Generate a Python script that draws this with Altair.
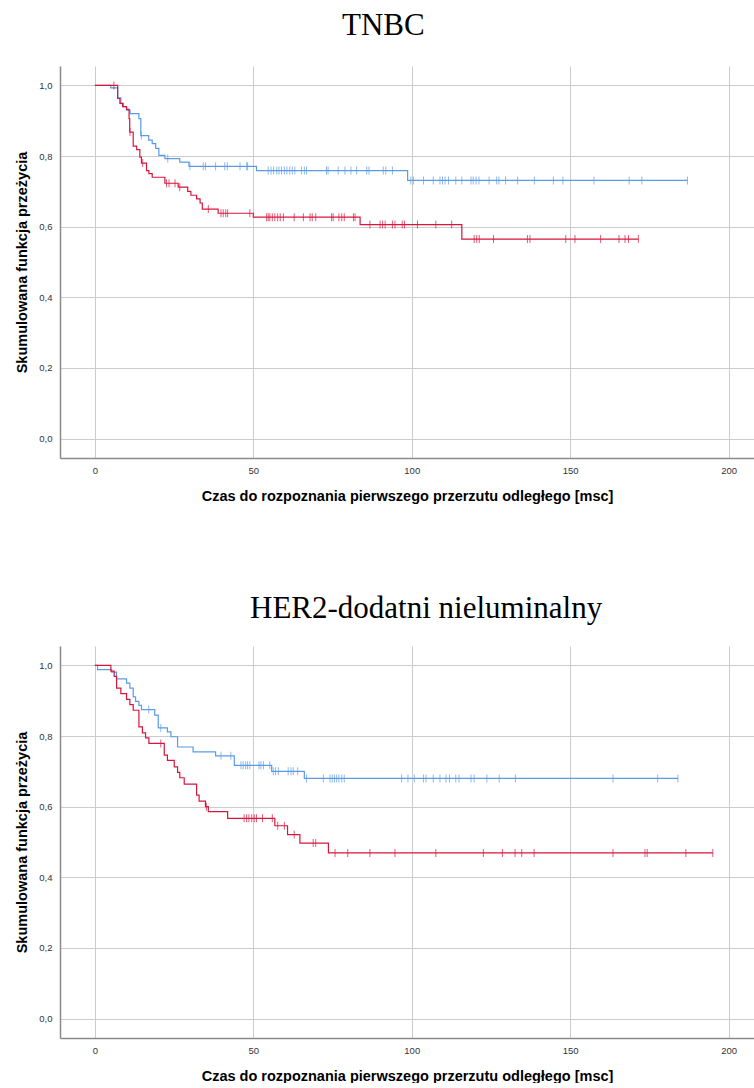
import altair as alt
import pandas as pd

# ---------------- data ----------------
GROUPS = ["g1", "g2"]
BLUE = "#5b9be6"
RED = "#d8163c"

X_TICKS = [0, 50, 100, 150, 200]
Y_TICKS = [0.0, 0.2, 0.4, 0.6, 0.8, 1.0]

X_TITLE = "Czas do rozpoznania pierwszego przerzutu odległego [msc]"
Y_TITLE = "Skumulowana funkcja przeżycia"

# TNBC - blue group
tnbc_blue_t = [0, 5.0, 7.2, 8.2, 9.0, 10.0, 11.1, 13.9, 14.5, 17.0, 18.1, 19.2, 20.2,
               22.1, 26.8, 29.7, 51.0, 98.7]
tnbc_blue_s = [1.0, 0.993, 0.965, 0.949, 0.940, 0.930, 0.920, 0.906, 0.858, 0.845, 0.835,
               0.822, 0.802, 0.793, 0.783, 0.771, 0.759, 0.731]
tnbc_blue_c = [14.7, 23.0, 30.0, 34.2, 34.9, 38.1, 41.0, 41.8, 45.8, 47.9, 48.2, 54.7, 55.6,
               56.4, 57.4, 58.1, 58.9, 59.8, 60.6, 61.5, 62.3, 63.1, 65.2, 66.1, 66.8, 73.1,
               73.6, 76.8, 78.9, 80.8, 82.6, 85.8, 86.5, 91.0, 91.8, 93.9, 99.7, 100.5, 103.7,
               106.8, 108.9, 109.7, 110.5, 111.6, 113.9, 115.8, 118.7, 119.4, 120.3, 121.2,
               124.4, 126.8, 127.5, 129.6, 133.4, 138.7, 144.7, 147.7, 157.5, 168.6, 172.6,
               187.0]

# TNBC - red group
tnbc_red_t = [0, 7.2, 7.9, 8.75, 10.0, 10.8, 11.0, 12.1, 13.2, 14.2, 14.7, 16.3, 17.05, 18.1,
              22.1, 26.3, 29.3, 30.3, 32.1, 33.2, 33.9, 38.9, 50.0, 83.7, 115.8]
tnbc_red_s = [1.0, 0.963, 0.949, 0.940, 0.932, 0.906, 0.868, 0.828, 0.818, 0.797, 0.780,
              0.759, 0.750, 0.740, 0.723, 0.712, 0.700, 0.689, 0.679, 0.667, 0.650, 0.638,
              0.627, 0.606, 0.565]
tnbc_red_c = [6.0, 11.1, 15.1, 22.6, 23.4, 25.3, 26.8, 35.8, 39.8, 40.5, 41.3, 41.9, 48.9,
              54.2, 54.7, 55.2, 56.0, 56.8, 57.7, 58.5, 59.5, 62.9, 65.8, 67.9, 68.6, 69.7,
              74.7, 75.2, 77.0, 77.9, 78.7, 81.6, 82.1, 86.8, 90.0, 90.8, 91.6, 93.9, 94.7,
              97.0, 97.7, 101.8, 107.6, 112.6, 119.7, 120.5, 121.3, 125.8, 136.5, 137.3,
              148.6, 151.5, 159.6, 165.4, 167.3, 168.4, 171.5]

# HER2 - blue group
her2_blue_t = [0, 0.85, 5.3, 6.85, 10.0, 11.05, 12.1, 12.85, 13.9, 14.7, 18.9, 20.0, 22.9,
               24.0, 26.1, 31.0, 38.1, 44.0, 55.8, 66.1]
her2_blue_s = [1.0, 0.988, 0.981, 0.962, 0.950, 0.936, 0.911, 0.898, 0.887, 0.875, 0.859,
               0.823, 0.812, 0.798, 0.769, 0.755, 0.744, 0.717, 0.700, 0.680]
her2_blue_c = [17.0, 20.8, 39.8, 42.9, 46.1, 46.8, 47.6, 48.2, 48.9, 51.8, 52.4, 53.2, 55.2,
               56.3, 57.0, 57.9, 61.0, 61.9, 62.6, 64.0, 66.8, 72.1, 74.2, 74.9, 75.6, 76.3,
               77.0, 77.9, 78.7, 96.8, 98.8, 100.8, 103.7, 104.5, 106.8, 108.9, 110.8, 111.9,
               113.9, 114.9, 118.7, 119.7, 123.7, 127.6, 132.7, 163.5, 177.6, 184.0]

# HER2 - red group
her2_red_t = [0, 5.05, 6.1, 6.85, 8.2, 10.0, 11.05, 12.1, 13.9, 15.0, 16.0, 17.05, 21.9,
              22.9, 25.05, 26.1, 26.8, 28.2, 32.1, 32.9, 34.9, 35.8, 41.9, 56.8, 60.8, 64.7,
              73.7]
her2_red_s = [1.0, 0.984, 0.969, 0.936, 0.920, 0.904, 0.889, 0.873, 0.826, 0.809, 0.795,
              0.779, 0.746, 0.731, 0.713, 0.697, 0.682, 0.664, 0.633, 0.616, 0.600, 0.586,
              0.567, 0.546, 0.521, 0.497, 0.469]
her2_red_c = [20.8, 35.2, 47.1, 47.9, 48.6, 49.5, 50.3, 51.0, 52.9, 56.0, 57.7, 59.8, 62.9,
              68.9, 69.7, 75.8, 79.8, 86.8, 94.7, 107.6, 122.6, 128.6, 132.6, 134.7, 138.6,
              163.5, 173.6, 174.3, 186.5, 195.0]


def curve_tables(groups):
    lines, cens = [], []
    for i, (g, t, s, c) in enumerate(groups):
        steps = pd.DataFrame({"t": t, "s": s})
        end = pd.DataFrame({"t": [max(c)], "s": [s[-1]]})
        ln = pd.concat([steps, end], ignore_index=True)
        ln["g"] = g
        ln["o"] = i
        lines.append(ln)
        cd = pd.DataFrame({"t": sorted(c)})
        cd = pd.merge_asof(cd, steps.sort_values("t"), on="t", direction="backward")
        cd["g"] = g
        cens.append(cd)
    return pd.concat(lines, ignore_index=True), pd.concat(cens, ignore_index=True)


def panel(title, title_dx, title_offset, groups):
    line_df, cens_df = curve_tables(groups)
    x = alt.X("t:Q", scale=alt.Scale(domain=[-11, 208], nice=False, zero=False),
              axis=alt.Axis(values=X_TICKS, title=X_TITLE, format="d"))
    y = alt.Y("s:Q", scale=alt.Scale(domain=[-0.055, 1.055], nice=False, zero=False),
              axis=alt.Axis(values=Y_TICKS, title=Y_TITLE,
                            labelExpr="replace(format(datum.value, '.1f'), '.', ',')"))
    color = alt.Color("g:N", scale=alt.Scale(domain=GROUPS, range=[BLUE, RED]), legend=None)
    lines = alt.Chart(line_df).mark_line(interpolate="step-after", strokeWidth=1.2).encode(
        x=x, y=y, color=color, order="o:O")
    ticks = alt.Chart(cens_df).mark_tick(orient="vertical", size=8, thickness=1).encode(
        x=x, y=y, color=color)
    return alt.layer(lines, ticks).properties(
        width=694, height=392,
        title=alt.TitleParams(text=title, font="Liberation Serif", fontSize=31,
                              fontWeight="normal", color="#000000", anchor="start",
                              frame="group", dx=title_dx, offset=title_offset,
                              baseline="alphabetic"))


top = panel("TNBC", 282, 0, [
    ("g1", tnbc_blue_t, tnbc_blue_s, tnbc_blue_c),
    ("g2", tnbc_red_t, tnbc_red_s, tnbc_red_c),
])
bottom = panel("HER2-dodatni nieluminalny", 190, -3, [
    ("g1", her2_blue_t, her2_blue_s, her2_blue_c),
    ("g2", her2_red_t, her2_red_s, her2_red_c),
])

chart = alt.vconcat(top, bottom, spacing=90).properties(
    padding={"left": 14, "top": 10, "right": 0, "bottom": 0}
).configure_view(stroke=None).configure_axis(
    grid=True, gridColor="#cccccc", gridWidth=1,
    domainColor="#8a8a8a", domainWidth=1.5,
    ticks=False, tickSize=0,
    labelFont="Liberation Sans", labelFontSize=9.5, labelColor="#333333",
    titleFont="Liberation Sans", titleFontSize=14.5, titleFontWeight="bold",
    titleColor="#000000",
).configure_axisX(labelPadding=7, titlePadding=15).configure_axisY(
    labelPadding=8, titlePadding=9.5)

chart.save("out.html", embed_options={"renderer": "svg", "actions": False})
